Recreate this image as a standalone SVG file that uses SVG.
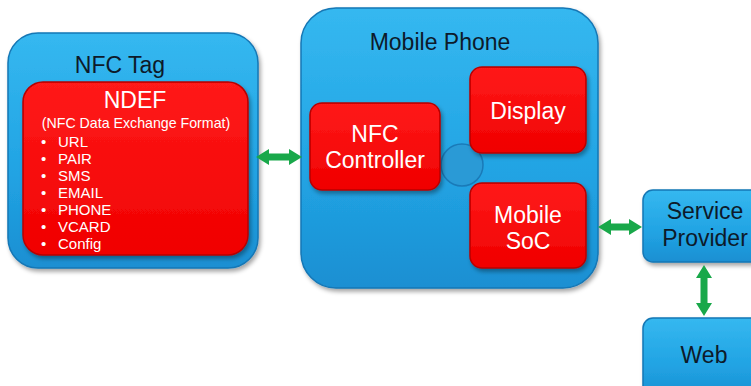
<svg xmlns="http://www.w3.org/2000/svg" width="751" height="386" viewBox="0 0 751 386">
<defs>
<linearGradient id="blue" x1="0" y1="0" x2="0" y2="1">
<stop offset="0" stop-color="#35b8f0"/>
<stop offset="0.6" stop-color="#21a3e3"/>
<stop offset="1" stop-color="#1b8fd2"/>
</linearGradient>
<linearGradient id="red" x1="0" y1="0" x2="0" y2="1">
<stop offset="0" stop-color="#ff1a1a"/>
<stop offset="1" stop-color="#f00000"/>
</linearGradient>
<filter id="sh" x="-10%" y="-10%" width="130%" height="130%">
<feDropShadow dx="2" dy="3" stdDeviation="2" flood-color="#000" flood-opacity="0.35"/>
</filter>
</defs>
<style>
.bb{fill:url(#blue);stroke:#1577b5;stroke-width:1.5;filter:url(#sh)}
.rb{fill:url(#red);stroke:#b80000;stroke-width:1.5;filter:url(#sh)}
.dk{font-family:"Liberation Sans",Arial,sans-serif;fill:#0d1a2a;text-anchor:middle;font-size:23px}
.wt{font-family:"Liberation Sans",Arial,sans-serif;fill:#ffffff;text-anchor:middle;font-size:23px}
.li{font-family:"Liberation Sans",Arial,sans-serif;fill:#ffffff;font-size:15px}
.cn{fill:#19a84a}
</style>
<rect width="751" height="386" fill="#ffffff"/>
<g id="nfc-tag">
<rect class="bb" x="8" y="33" width="250" height="235" rx="30"/>
<text class="dk" x="120" y="73">NFC Tag</text>
<rect class="rb" x="23" y="82" width="225" height="173" rx="20"/>
<text class="wt" x="135" y="108" font-size="22">NDEF</text>
<text class="wt" x="136" y="128" style="font-size:14.2px">(NFC Data Exchange Format)</text>
<g class="li">
<text x="41" y="147">•</text><text x="58" y="147">URL</text>
<text x="41" y="164">•</text><text x="58" y="164">PAIR</text>
<text x="41" y="181">•</text><text x="58" y="181">SMS</text>
<text x="41" y="198">•</text><text x="58" y="198">EMAIL</text>
<text x="41" y="215">•</text><text x="58" y="215">PHONE</text>
<text x="41" y="232">•</text><text x="58" y="232">VCARD</text>
<text x="41" y="249">•</text><text x="58" y="249">Config</text>
</g>
</g>
<g id="mobile-phone">
<rect class="bb" x="301" y="8" width="297" height="280" rx="35"/>
<text class="dk" x="440" y="50">Mobile Phone</text>
</g>
<g id="hub">
<circle cx="462" cy="165" r="21" fill="#2a9ad6" stroke="#1a7ab8" stroke-width="1.5"/>
</g>
<g id="nfc-controller">
<rect class="rb" x="310" y="103" width="130" height="87" rx="12"/>
<text class="wt" x="375" y="142">NFC</text>
<text class="wt" x="375" y="168">Controller</text>
</g>
<g id="display">
<rect class="rb" x="470" y="67" width="116" height="86" rx="12"/>
<text class="wt" x="528" y="119">Display</text>
</g>
<g id="mobile-soc">
<rect class="rb" x="470" y="183" width="116" height="85" rx="12"/>
<text class="wt" x="528" y="223">Mobile</text>
<text class="wt" x="528" y="249">SoC</text>
</g>
<g id="service-provider">
<rect class="bb" x="643" y="190" width="120" height="72" rx="10"/>
<text class="dk" x="705" y="219">Service</text>
<text class="dk" x="705" y="246">Provider</text>
</g>
<g id="web">
<rect class="bb" x="643" y="318" width="120" height="80" rx="10"/>
<text class="dk" x="704" y="363">Web</text>
</g>
<g id="connectors">
<path class="cn" d="M256,157 L269,149 L269,153.5 L289,153.5 L289,149 L302,157 L289,165 L289,160.5 L269,160.5 L269,165 Z"/>
<path class="cn" d="M598,227 L611,219 L611,223.5 L629,223.5 L629,219 L642,227 L629,235 L629,230.5 L611,230.5 L611,235 Z"/>
<path class="cn" d="M704,265 L712,278 L707.5,278 L707.5,303 L712,303 L704,316 L696,303 L700.5,303 L700.5,278 L696,278 Z"/>
</g>
</svg>
